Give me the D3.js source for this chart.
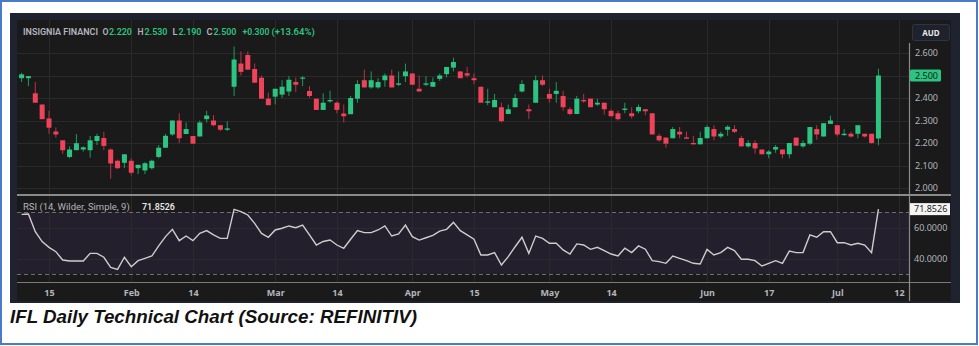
<!DOCTYPE html>
<html>
<head>
<meta charset="utf-8">
<script src="https://cdn.jsdelivr.net/npm/d3@7"></script>
<style>
  body { margin: 0; background: #fff; }
  svg { display: block; font-family: "Noto Sans", sans-serif; }
</style>
</head>
<body>
<div id="chart"></div>
<script>
// IFL daily candles, 9 Jan - 9 Jul (one entry per trading day)

var open = [2.488,2.488,2.421,2.371,2.309,2.251,2.212,2.138,2.168,2.171,2.168,2.209,2.222,2.171,2.121,2.112,2.121,2.088,2.078,2.088,
  2.138,2.179,2.238,2.300,2.240,2.231,2.229,2.306,2.300,2.279,2.259,2.450,2.553,2.591,2.529,2.490,2.397,2.406,2.415,2.429,
  2.471,2.487,2.431,2.397,2.347,2.385,2.379,2.331,2.328,2.397,2.479,2.447,2.447,2.479,2.500,2.459,2.497,2.509,2.441,2.459,
  2.450,2.485,2.506,2.535,2.518,2.510,2.488,2.450,2.379,2.359,2.359,2.329,2.359,2.429,2.350,2.379,2.479,2.418,2.418,2.409,
  2.350,2.329,2.391,2.397,2.371,2.379,2.343,2.332,2.347,2.332,2.341,2.350,2.332,2.232,2.224,2.221,2.250,2.225,2.200,2.194,
  2.221,2.262,2.229,2.259,2.262,2.222,2.185,2.200,2.171,2.150,2.171,2.171,2.150,2.224,2.185,2.197,2.262,2.229,2.285,2.279,
  2.235,2.241,2.241,2.241,2.241,2.220];
var high = [2.512,2.497,2.471,2.371,2.343,2.269,2.212,2.185,2.240,2.185,2.231,2.241,2.250,2.176,2.126,2.150,2.132,2.103,2.115,2.126,
  2.191,2.241,2.300,2.332,2.291,2.231,2.300,2.343,2.324,2.279,2.297,2.629,2.607,2.607,2.553,2.500,2.424,2.441,2.479,2.497,
  2.491,2.497,2.453,2.397,2.421,2.432,2.385,2.371,2.409,2.479,2.526,2.518,2.488,2.509,2.526,2.518,2.553,2.509,2.500,2.497,
  2.491,2.509,2.538,2.579,2.518,2.538,2.509,2.450,2.441,2.418,2.379,2.371,2.418,2.479,2.371,2.500,2.500,2.441,2.471,2.432,
  2.359,2.409,2.418,2.397,2.397,2.379,2.350,2.344,2.379,2.359,2.371,2.350,2.332,2.241,2.224,2.271,2.271,2.250,2.232,2.250,
  2.279,2.279,2.250,2.279,2.279,2.232,2.212,2.212,2.171,2.168,2.191,2.171,2.200,2.224,2.212,2.271,2.279,2.288,2.321,2.279,
  2.262,2.250,2.279,2.241,2.241,2.530];
var low = [2.471,2.453,2.379,2.306,2.241,2.224,2.151,2.132,2.168,2.162,2.135,2.191,2.169,2.041,2.085,2.088,2.056,2.062,2.062,2.082,
  2.132,2.179,2.232,2.200,2.240,2.197,2.229,2.291,2.274,2.253,2.253,2.409,2.500,2.526,2.468,2.397,2.368,2.371,2.400,2.409,
  2.426,2.453,2.401,2.347,2.347,2.379,2.332,2.291,2.328,2.379,2.447,2.441,2.441,2.450,2.447,2.453,2.471,2.459,2.429,2.453,
  2.450,2.476,2.491,2.518,2.488,2.491,2.462,2.379,2.368,2.359,2.291,2.329,2.359,2.424,2.306,2.379,2.453,2.379,2.379,2.344,
  2.324,2.329,2.379,2.359,2.365,2.326,2.319,2.300,2.332,2.309,2.332,2.324,2.238,2.206,2.179,2.221,2.221,2.219,2.194,2.194,
  2.221,2.212,2.221,2.232,2.244,2.185,2.179,2.153,2.150,2.132,2.156,2.132,2.132,2.188,2.179,2.191,2.215,2.229,2.285,2.229,
  2.232,2.224,2.221,2.224,2.197,2.190];
var close = [2.505,2.497,2.379,2.306,2.268,2.238,2.168,2.171,2.199,2.181,2.212,2.231,2.187,2.109,2.088,2.150,2.068,2.103,2.110,2.121,
  2.179,2.232,2.300,2.221,2.262,2.197,2.291,2.322,2.279,2.259,2.265,2.571,2.516,2.526,2.468,2.397,2.368,2.441,2.450,2.481,
  2.459,2.491,2.409,2.347,2.379,2.391,2.347,2.319,2.400,2.462,2.447,2.479,2.471,2.500,2.447,2.465,2.518,2.459,2.429,2.465,
  2.471,2.500,2.538,2.560,2.488,2.500,2.479,2.379,2.385,2.391,2.297,2.350,2.400,2.462,2.341,2.479,2.459,2.397,2.432,2.359,
  2.329,2.397,2.385,2.359,2.379,2.350,2.319,2.306,2.353,2.319,2.360,2.341,2.238,2.212,2.197,2.262,2.238,2.219,2.194,2.222,
  2.271,2.229,2.241,2.272,2.250,2.185,2.200,2.176,2.150,2.162,2.182,2.150,2.200,2.188,2.200,2.271,2.238,2.288,2.300,2.238,
  2.241,2.229,2.279,2.229,2.200,2.500];

// RSI (14, Wilder) per bar
var rsi = [68.5,68.7,57.3,50.9,47.2,44.4,39.0,38.4,38.4,38.4,43.3,43.3,40.8,34.3,33.0,40.8,34.7,38.6,40.1,41.6,
  48.1,54.1,58.8,51.5,54.5,51.5,56.2,58.0,55.2,53.0,53.0,71.7,70.2,68.1,62.7,56.2,53.7,58.4,59.5,61.0,
  59.9,61.6,55.2,48.7,51.0,51.9,48.7,46.6,52.4,58.0,56.7,56.7,58.4,61.0,54.5,55.8,61.6,54.1,51.9,53.4,
  54.9,57.7,58.8,63.3,58.0,55.2,52.4,42.3,42.3,43.8,35.8,41.2,47.6,53.7,43.3,54.5,53.0,49.8,49.8,45.5,
  42.9,49.4,48.7,45.9,47.2,45.1,42.9,41.6,46.6,43.8,48.1,46.0,38.6,38.0,36.9,41.6,40.1,38.6,36.9,36.5,
  45.9,42.3,43.8,47.2,45.1,39.5,39.5,38.6,35.2,36.9,38.6,36.9,44.8,43.8,43.8,55.2,53.7,57.3,57.3,50.2,
  50.2,48.7,49.8,48.7,43.8,71.8526];

var tickIndex = [4, 16, 25, 37, 46, 57, 66, 77, 86, 100, 109, 119, 128];
var tickLabels = ["15", "Feb", "14", "Mar", "14", "Apr", "15", "May", "14", "Jun", "17", "Jul", "12"];
var priceTicks = [2.0, 2.1, 2.2, 2.3, 2.4, 2.5, 2.6];
var rsiTicks = [40, 60];
var rsiLevels = [30, 70];

var green = "#2cc480", red = "#ee4359", grey = "#b2b5be", gridCol = "#2a2a2a";

var svg = d3.select("#chart").append("svg")
  .attr("width", 979)
  .attr("height", 346);

// frame
svg.append("rect").attr("x", 1).attr("y", 1).attr("width", 976).attr("height", 343)
  .attr("fill", "#fff").attr("stroke", "#4a7bcb").attr("stroke-width", 2);
svg.append("rect").attr("x", 10).attr("y", 13).attr("width", 950).attr("height", 290).attr("fill", "#1f2330");
svg.append("rect").attr("x", 17).attr("y", 20).attr("width", 934).attr("height", 281).attr("fill", "#1a1a1a");

var plotLeft = 17, plotRight = 909;

var x = d3.scaleLinear().domain([4, 128]).range([49, 899]);
var y = d3.scaleLinear().domain([2.0, 2.6]).range([188, 53]);
var ry = d3.scaleLinear().domain([30, 70]).range([274, 212]);

svg.append("defs").append("clipPath").attr("id", "plotclip")
  .append("rect").attr("x", plotLeft).attr("y", 20).attr("width", plotRight - plotLeft).attr("height", 262);

// rsi band
svg.append("rect")
  .attr("x", plotLeft).attr("width", plotRight - plotLeft)
  .attr("y", ry(70)).attr("height", ry(30) - ry(70))
  .attr("fill", "#241f2c");

// grid
var grid = svg.append("g").attr("stroke", gridCol).attr("stroke-width", 1);
grid.selectAll(".vg").data(tickIndex).enter().append("line")
  .attr("x1", d => Math.round(x(d)) + 0.5).attr("x2", d => Math.round(x(d)) + 0.5)
  .attr("y1", 20).attr("y2", 282);
grid.selectAll(".hg").data(priceTicks).enter().append("line")
  .attr("x1", plotLeft).attr("x2", plotRight)
  .attr("y1", d => Math.round(y(d)) + 0.5).attr("y2", d => Math.round(y(d)) + 0.5);
grid.selectAll(".rg").data(rsiTicks).enter().append("line")
  .attr("x1", plotLeft).attr("x2", plotRight)
  .attr("y1", d => Math.round(ry(d)) + 0.5).attr("y2", d => Math.round(ry(d)) + 0.5);

svg.append("g").selectAll("line").data(rsiLevels).enter().append("line")
  .attr("x1", plotLeft).attr("x2", plotRight)
  .attr("y1", d => Math.round(ry(d)) + 0.5).attr("y2", d => Math.round(ry(d)) + 0.5)
  .attr("stroke", "#6e6e6e").attr("stroke-dasharray", "4,3");

// candles
var bars = d3.range(close.length);
var candles = svg.append("g").attr("clip-path", "url(#plotclip)");
candles.selectAll(".wick").data(bars).enter().append("line")
  .attr("x1", i => x(i)).attr("x2", i => x(i))
  .attr("y1", i => y(high[i])).attr("y2", i => y(low[i]))
  .attr("stroke", i => close[i] >= open[i] ? "#1f9a62" : "#b53446")
  .attr("stroke-width", 1);
candles.selectAll(".body").data(bars).enter().append("rect")
  .attr("x", i => x(i) - 2.5).attr("width", 5)
  .attr("y", i => y(Math.max(open[i], close[i])))
  .attr("height", i => Math.max(1.2, Math.abs(y(open[i]) - y(close[i]))))
  .attr("fill", i => close[i] >= open[i] ? green : red);

// rsi line
svg.append("path").datum(rsi)
  .attr("clip-path", "url(#plotclip)")
  .attr("fill", "none").attr("stroke", "#cdcdcd").attr("stroke-width", 1.4)
  .attr("d", d3.line().x((d, i) => x(i)).y(d => ry(d)));

// separators
svg.append("line").attr("x1", plotLeft).attr("x2", 951).attr("y1", 195).attr("y2", 195)
  .attr("stroke", "#8a8a8a").attr("stroke-width", 2);
svg.append("line").attr("x1", plotLeft).attr("x2", 951).attr("y1", 282.5).attr("y2", 282.5)
  .attr("stroke", "#7a7a7a").attr("stroke-width", 1.2);
svg.append("line").attr("x1", plotRight + 0.5).attr("x2", plotRight + 0.5).attr("y1", 43).attr("y2", 301)
  .attr("stroke", "#8a8a8a").attr("stroke-width", 1.2);

// axes
var priceAxis = svg.append("g").attr("transform", "translate(" + plotRight + ",0)")
  .call(d3.axisRight(y).tickValues(priceTicks).tickFormat(d3.format(".3f")).tickSize(0).tickPadding(6));
var rsiAxis = svg.append("g").attr("transform", "translate(" + plotRight + ",0)")
  .call(d3.axisRight(ry).tickValues(rsiTicks).tickFormat(d3.format(".4f")).tickSize(0).tickPadding(5));
var timeAxis = svg.append("g").attr("transform", "translate(0,282)")
  .call(d3.axisBottom(x).tickValues(tickIndex).tickFormat((d, i) => tickLabels[i]).tickSize(0));
[priceAxis, rsiAxis, timeAxis].forEach(function(a) {
  a.select(".domain").remove();
  a.selectAll("text").attr("fill", grey).attr("font-size", "9px").attr("font-family", "Noto Sans, sans-serif");
});
timeAxis.selectAll("text").attr("y", 14).attr("dy", null).attr("font-weight", "bold");

// last value tags
var lastClose = close[close.length - 1], lastRsi = rsi[rsi.length - 1];
svg.append("rect").attr("x", 910).attr("y", y(lastClose) - 6).attr("width", 31).attr("height", 12)
  .attr("rx", 1.5).attr("fill", green);
svg.append("text").attr("x", 915).attr("y", y(lastClose) + 3.2).text(d3.format(".3f")(lastClose))
  .attr("fill", "#10261a").attr("font-size", "9px");
svg.append("rect").attr("x", 910).attr("y", ry(lastRsi) - 6).attr("width", 40).attr("height", 12)
  .attr("fill", "#f4f4f4");
svg.append("text").attr("x", 914).attr("y", ry(lastRsi) + 3.2).text(d3.format(".4f")(lastRsi))
  .attr("fill", "#1a1a1a").attr("font-size", "9px");

// currency box
svg.append("rect").attr("x", 912.5).attr("y", 24.5).attr("width", 37).attr("height", 16).attr("rx", 2)
  .attr("fill", "#1e222d").attr("stroke", "#2f3342");
svg.append("text").attr("x", 931).attr("y", 35.5).attr("text-anchor", "middle").text("AUD")
  .attr("fill", "#e8e8e8").attr("font-size", "8px").attr("font-weight", "bold");

// shrink a label's font until it fits the width it has in the reference
function fit(sel, w) {
  sel.each(function() {
    var fs = parseFloat(this.getAttribute("font-size"));
    var len = this.getComputedTextLength();
    if (len > w) this.setAttribute("font-size", (fs * w / len).toFixed(2) + "px");
  });
}

// legend lines
var header = [
  {t: "INSIGNIA FINANCI", x: 23, w: 75, c: grey},
  {t: "O", x: 102.5, w: 6, c: grey}, {t: d3.format(".3f")(open[125]), x: 109, w: 23, c: green},
  {t: "H", x: 137.5, w: 6, c: grey}, {t: d3.format(".3f")(high[125]), x: 144.5, w: 23, c: green},
  {t: "L", x: 172.5, w: 5, c: grey}, {t: d3.format(".3f")(low[125]), x: 178.5, w: 23, c: green},
  {t: "C", x: 206.5, w: 6, c: grey}, {t: d3.format(".3f")(close[125]), x: 213.5, w: 23, c: green},
  {t: "+0.300", x: 242.5, w: 27, c: green},
  {t: "(+13.64%)", x: 271.5, w: 44, c: green}
];
svg.append("g").selectAll("text").data(header).enter().append("text")
  .attr("x", d => d.x).attr("y", 35).text(d => d.t)
  .attr("fill", d => d.c).attr("font-size", "9.5px").attr("font-weight", 600)
  .attr("font-family", "Roboto, sans-serif")
  .each(function(d) { fit(d3.select(this), d.w); });

svg.append("text").attr("x", 23).attr("y", 210).text("RSI (14, Wilder, Simple, 9)")
  .attr("fill", grey).attr("font-size", "9.5px").attr("font-family", "Roboto, sans-serif")
  .call(fit, 112);
svg.append("text").attr("x", 142).attr("y", 210).text(d3.format(".4f")(lastRsi))
  .attr("fill", "#e6e6e6").attr("font-size", "9.5px").attr("font-weight", 600)
  .attr("font-family", "Roboto, sans-serif")
  .call(fit, 33);

// caption
svg.append("text").attr("x", 10).attr("y", 323)
  .text("IFL Daily Technical Chart (Source: REFINITIV)")
  .attr("textLength", 407).attr("lengthAdjust", "spacingAndGlyphs")
  .attr("font-family", "Liberation Sans, Arial, sans-serif")
  .attr("font-size", "18px").attr("font-weight", "bold").attr("font-style", "italic")
  .attr("fill", "#111");
</script>
</body>
</html>
